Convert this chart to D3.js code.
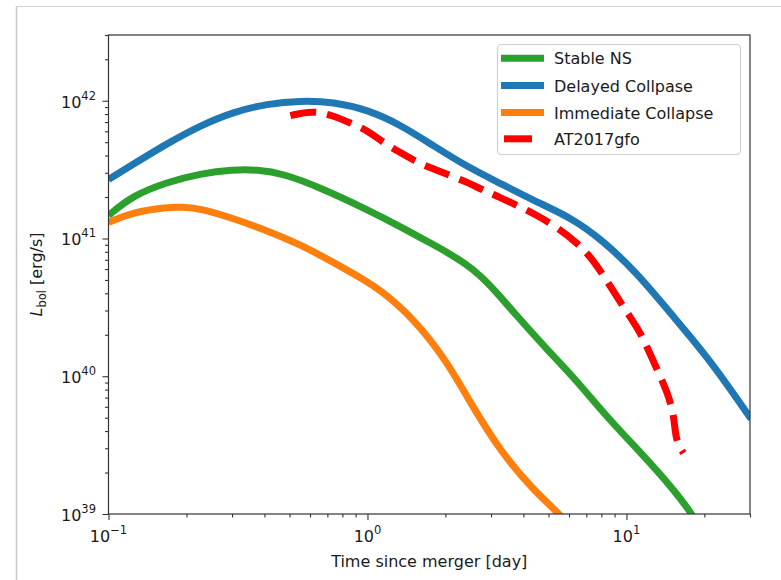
<!DOCTYPE html>
<html lang="en">
<head>
    <meta charset="UTF-8">
    <title>Bolometric light curves</title>
    <script src="https://d3js.org/d3.v7.min.js"></script>
    <style>
        body { margin: 0; background: #fff; }
        text { font-family: "DejaVu Sans", sans-serif; fill: #1a1a1a; }
    </style>
</head>
<body>
<svg id="chart" width="781" height="580"></svg>

<script>
    // time since merger [day] and L_bol [erg/s] for each model
    const stableT = [0.1, 0.124, 0.168, 0.226, 0.303, 0.375, 0.473, 0.658, 1.0, 1.34, 1.8, 2.04, 2.35, 2.73, 3.18, 3.67, 4.97, 6.27, 8.48, 11.4, 15.3, 17.7, 19];
    const stableL = [1.47e41, 2.05e41, 2.56e41, 2.96e41, 3.16e41, 3.16e41, 2.96e41, 2.34e41, 1.62e41, 1.22e41, 9.0e40, 7.9e40, 6.7e40, 5.4e40, 3.99e40, 2.91e40, 1.54e40, 9.8e39, 4.96e39, 2.77e39, 1.49e39, 1.03e39, 8.2e38];

    const delayedT = [0.1, 0.124, 0.168, 0.226, 0.303, 0.41, 0.55, 0.74, 1.0, 1.34, 1.8, 2.44, 3.27, 4.5, 6.1, 8.1, 11.0, 14.8, 20.7, 30.3];
    const delayedL = [2.68e41, 3.44e41, 4.88e41, 6.6e41, 8.3e41, 9.5e41, 1.0e42, 9.8e41, 8.6e41, 6.7e41, 4.7e41, 3.3e41, 2.5e41, 1.84e41, 1.42e41, 9.7e40, 5.6e40, 2.86e40, 1.37e40, 4.9e39];

    const immediateT = [0.1, 0.124, 0.168, 0.194, 0.226, 0.303, 0.41, 0.55, 0.74, 1.0, 1.123, 1.51, 2.04, 2.44, 3.27, 4.38, 5.43, 5.9];
    const immediateL = [1.31e41, 1.55e41, 1.69e41, 1.69e41, 1.65e41, 1.40e41, 1.14e41, 9.05e40, 6.7e40, 4.85e40, 4.2e40, 2.63e40, 1.26e40, 6.9e39, 2.81e39, 1.49e39, 1.03e39, 8.5e38];

    const gfoT = [0.504, 0.612, 0.738, 0.859, 1.0, 1.15, 1.34, 1.56, 1.8, 2.09, 2.44, 2.81, 3.27, 3.91, 4.38, 5.43, 6.49, 7.48, 8.71, 10.1, 11.4, 12.8, 14.5, 15.3, 15.5, 16.6];
    const gfoL = [7.8e41, 8.5e41, 7.8e41, 6.9e41, 6.07e41, 4.97e41, 4.2e41, 3.56e41, 3.2e41, 2.86e41, 2.55e41, 2.23e41, 1.98e41, 1.68e41, 1.52e41, 1.2e41, 9.2e40, 6.93e40, 4.42e40, 2.86e40, 2.05e40, 1.24e40, 7.5e39, 5.0e39, 3.4e39, 2.77e39];

    const seriesNames = ["Stable NS", "Delayed Collpase", "Immediate Collapse", "AT2017gfo"];
    const seriesColors = ["#2ca02c", "#1f77b4", "#ff7f0e", "#ff0000"];

    // decade exponents for the tick labels
    const xTickExps = [-1, 0, 1];
    const yTickExps = [39, 40, 41, 42];

    const axL = 108.5, axT = 35, axR = 750, axB = 514;

    const svg = d3.select("#chart");

    // faint frame of the window the figure sits in
    svg.append("line").attr("x1", 16.5).attr("x2", 781).attr("y1", 6.5).attr("y2", 6.5)
        .attr("stroke", "#d4d4d4").attr("stroke-width", 1.2);
    svg.append("line").attr("x1", 16.5).attr("x2", 16.5).attr("y1", 6.5).attr("y2", 580)
        .attr("stroke", "#c8c8c8").attr("stroke-width", 1.5);

    const x = d3.scaleLog().domain([0.1, 30]).range([axL, axR]);
    const y = d3.scaleLog().domain([1e39, 3e42]).range([axB, axT]);

    svg.append("defs").append("clipPath").attr("id", "plotclip")
        .append("rect")
        .attr("x", axL).attr("y", axT)
        .attr("width", axR - axL).attr("height", axB - axT);

    const series = [
        { t: stableT, l: stableL },
        { t: delayedT, l: delayedL },
        { t: immediateT, l: immediateL },
        { t: gfoT, l: gfoL }
    ];

    const line = d3.line()
        .x(d => x(d[0]))
        .y(d => y(d[1]))
        .curve(d3.curveBasis);

    const plot = svg.append("g").attr("clip-path", "url(#plotclip)");

    series.forEach((s, i) => {
        const pts = s.t.map((t, j) => [t, s.l[j]]);
        const path = plot.append("path")
            .datum(pts)
            .attr("d", line)
            .attr("fill", "none")
            .attr("stroke", seriesColors[i])
            .attr("stroke-width", 7)
            .attr("stroke-linejoin", "round");
        if (i === 3) {
            path.attr("stroke-dasharray", "26,11");
        }
    });

    // minor ticks
    const xMinor = [];
    for (let e = -1; e <= 1; e++) {
        for (let k = 2; k <= 9; k++) {
            const v = k * Math.pow(10, e);
            if (v <= 30) xMinor.push(v);
        }
    }
    const yMinor = [];
    for (let e = 39; e <= 42; e++) {
        for (let k = 2; k <= 9; k++) {
            const v = k * Math.pow(10, e);
            if (v <= 3e42) yMinor.push(v);
        }
    }

    const xMajors = xTickExps.map(e => Math.pow(10, e));
    const yMajors = yTickExps.map(e => Math.pow(10, e));

    svg.append("g")
        .attr("transform", "translate(0," + axB + ")")
        .call(d3.axisBottom(x).tickValues(xMinor).tickSize(3.5).tickFormat(""))
        .call(g => g.select(".domain").remove());
    svg.append("g")
        .attr("transform", "translate(0," + axB + ")")
        .call(d3.axisBottom(x).tickValues(xMajors).tickSize(6).tickFormat(""))
        .call(g => g.select(".domain").remove());
    svg.append("g")
        .attr("transform", "translate(" + axL + ",0)")
        .call(d3.axisLeft(y).tickValues(yMinor).tickSize(3.5).tickFormat(""))
        .call(g => g.select(".domain").remove());
    svg.append("g")
        .attr("transform", "translate(" + axL + ",0)")
        .call(d3.axisLeft(y).tickValues(yMajors).tickSize(6).tickFormat(""))
        .call(g => g.select(".domain").remove());

    svg.selectAll(".tick line").attr("stroke", "#333").attr("stroke-width", 1.1);

    // axes box
    svg.append("rect")
        .attr("x", axL).attr("y", axT)
        .attr("width", axR - axL).attr("height", axB - axT)
        .attr("fill", "none").attr("stroke", "#333").attr("stroke-width", 1.2);

    // power-of-ten labels
    const yLab = svg.append("g").selectAll("text")
        .data(yTickExps)
        .enter()
        .append("text")
        .attr("x", 96)
        .attr("y", d => y(Math.pow(10, d)) + 7)
        .attr("text-anchor", "end")
        .attr("font-size", 16);
    yLab.append("tspan").text("10");
    yLab.append("tspan").attr("dy", -8).attr("font-size", 11.5).text(d => d);

    const xLab = svg.append("g").selectAll("text")
        .data(xTickExps)
        .enter()
        .append("text")
        .attr("x", d => x(Math.pow(10, d)))
        .attr("y", 542)
        .attr("text-anchor", "middle")
        .attr("font-size", 16);
    xLab.append("tspan").text("10");
    xLab.append("tspan").attr("dy", -8).attr("font-size", 11.5)
        .text(d => d < 0 ? "\u2212" + Math.abs(d) : d);

    // axis titles
    svg.append("text")
        .attr("x", (axL + axR) / 2)
        .attr("y", 567)
        .attr("text-anchor", "middle")
        .attr("font-size", 16)
        .text("Time since merger [day]");

    const yTitle = svg.append("text")
        .attr("transform", "translate(42," + ((axT + axB) / 2) + ") rotate(-90)")
        .attr("text-anchor", "middle")
        .attr("font-size", 16);
    yTitle.append("tspan").attr("font-style", "italic").text("L");
    yTitle.append("tspan").attr("dy", 4).attr("font-size", 11.5).text("bol");
    yTitle.append("tspan").attr("dy", -4).text(" [erg/s]");

    // legend
    const legend = svg.append("g");
    legend.append("rect")
        .attr("x", 497.5).attr("y", 44.5)
        .attr("width", 243).attr("height", 110)
        .attr("rx", 4)
        .attr("fill", "#fff").attr("fill-opacity", 0.8)
        .attr("stroke", "#d0d0d0").attr("stroke-width", 1.2);

    const rowY = [58.3, 85.5, 112.5, 138.8];
    seriesNames.forEach((name, i) => {
        legend.append("line")
            .attr("x1", i === 3 ? 504 : 501).attr("x2", i === 3 ? 532 : 544)
            .attr("y1", rowY[i]).attr("y2", rowY[i])
            .attr("stroke", seriesColors[i])
            .attr("stroke-width", 7);
        legend.append("text")
            .attr("x", 554)
            .attr("y", rowY[i] + 6)
            .attr("font-size", 16)
            .text(name);
    });
</script>
</body>
</html>
